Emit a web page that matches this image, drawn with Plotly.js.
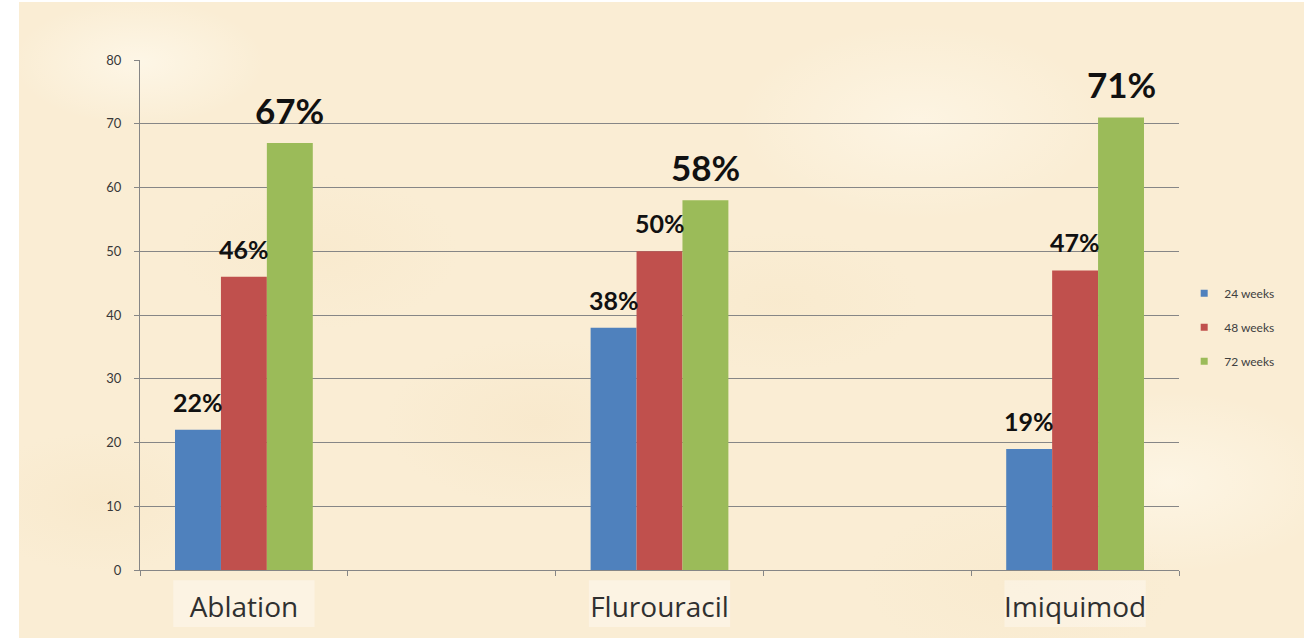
<!DOCTYPE html>
<html>
<head>
<meta charset="utf-8">
<script src="https://cdn.plot.ly/plotly-3.0.1.min.js"></script>
<style>
  html, body { margin:0; padding:0; width:1304px; height:639px; overflow:hidden; background:#ffffff; }
  #bg {
    position:absolute; left:19px; top:2px; width:1285px; height:636px;
    background-color:#faedd4;
    background-image:
      radial-gradient(ellipse 180px 90px at 120px 60px, rgba(255,250,238,0.7), rgba(255,250,238,0) 70%),
      radial-gradient(ellipse 220px 120px at 520px 420px, rgba(246,228,196,0.45), rgba(246,228,196,0) 70%),
      radial-gradient(ellipse 260px 140px at 900px 120px, rgba(255,249,236,0.6), rgba(255,249,236,0) 70%),
      radial-gradient(ellipse 200px 110px at 300px 250px, rgba(247,230,198,0.4), rgba(247,230,198,0) 70%),
      radial-gradient(ellipse 240px 130px at 1150px 480px, rgba(255,250,238,0.6), rgba(255,250,238,0) 70%),
      radial-gradient(ellipse 200px 100px at 760px 300px, rgba(246,229,196,0.35), rgba(246,229,196,0) 70%),
      radial-gradient(ellipse 180px 100px at 80px 500px, rgba(246,228,194,0.4), rgba(246,228,194,0) 70%),
      radial-gradient(ellipse 220px 120px at 1000px 580px, rgba(247,231,200,0.4), rgba(247,231,200,0) 70%);
  }
  #chart { position:absolute; left:0; top:0; width:1304px; height:639px; }
</style>
</head>
<body>
<div id="bg"></div>
<div id="chart"></div>
<script>
// Data
const categories = ["Ablation", " ", "Flurouracil", "  ", "Imiquimod"];
const seriesNames = ["24 weeks", "48 weeks", "72 weeks"];
const weeks24 = [22, null, 38, null, 19];
const weeks48 = [46, null, 50, null, 47];
const weeks72 = [67, null, 58, null, 71];
const labelText24 = ["22%", "", "38%", "", "19%"];
const labelText48 = ["46%", "", "50%", "", "47%"];
const labelText72 = ["67%", "", "58%", "", "71%"];
const yTicks = [0, 10, 20, 30, 40, 50, 60, 70, 80];

const colors = ["#4F81BD", "#C0504D", "#9BBB59"];
const allValues = [weeks24, weeks48, weeks72];
const allLabels = [labelText24, labelText48, labelText72];
const labelSizes = [25, 25, 35];
const barShift = [-46, 0, 46];

const traces = [];
allValues.forEach((vals, i) => {
  traces.push({
    type: "bar", x: categories, y: vals, name: seriesNames[i],
    marker: { color: colors[i] }, showlegend: false, hoverinfo: "y"
  });
});
// legend entries (small square swatches)
seriesNames.forEach((nm, i) => {
  traces.push({
    type: "scatter", mode: "markers", x: [null], y: [null], name: nm,
    marker: { symbol: "square", size: 7, color: colors[i] },
    legendgroup: "g" + i, showlegend: true
  });
});

const annotations = [];
allValues.forEach((vals, i) => {
  vals.forEach((v, j) => {
    if (v === null) return;
    annotations.push({
      x: categories[j], y: v, xref: "x", yref: "y",
      text: allLabels[i][j], showarrow: false,
      xanchor: "center", yanchor: "bottom",
      xshift: barShift[i], yshift: i === 2 ? 10 : 11,
      font: { family: "Lato, 'Open Sans', sans-serif", size: labelSizes[i], color: "#111111", weight: "bold" }
    });
  });
});

// faint white boxes behind category labels
const shapes = [];
categories.forEach((c, j) => {
  if (c.trim() === "") return;
  shapes.push({
    type: "rect", xref: "x", yref: "paper", layer: "below",
    x0: j - 0.34, x1: j + 0.34, y0: -0.112, y1: -0.02,
    fillcolor: "rgba(255,255,255,0.35)", line: { width: 0 }
  });
});

const layout = {
  width: 1304, height: 639,
  paper_bgcolor: "rgba(0,0,0,0)", plot_bgcolor: "rgba(0,0,0,0)",
  margin: { l: 140, r: 125, t: 60, b: 69 },
  barmode: "group", bargap: 0.337, bargroupgap: 0,
  font: { family: "Lato, 'Open Sans', sans-serif", color: "#404040" },
  xaxis: {
    type: "category", categoryorder: "array", categoryarray: categories,
    showline: true, linecolor: "#868686", linewidth: 1,
    ticks: "outside", tickson: "boundaries", ticklen: 5, tickcolor: "#868686",
    tickfont: { family: "'Open Sans', sans-serif", size: 28, color: "#303030" },
    ticklabelstandoff: 12,
    showgrid: false, zeroline: false, fixedrange: true
  },
  yaxis: {
    range: [0, 80], tickvals: yTicks, ticktext: yTicks.map(String),
    showline: true, linecolor: "#868686", linewidth: 1,
    ticks: "outside", ticklen: 5, tickcolor: "#868686",
    showgrid: true, gridcolor: "#868686", gridwidth: 1,
    zeroline: false,
    tickfont: { family: "Lato, sans-serif", size: 13, color: "#383838" },
    ticklabelstandoff: 10, fixedrange: true
  },
  legend: {
    x: 1.005, xanchor: "left", y: 0.476, yanchor: "middle",
    bgcolor: "rgba(0,0,0,0)", borderwidth: 0,
    font: { family: "Lato, sans-serif", size: 12, color: "#404040" },
    tracegroupgap: 15, itemclick: false
  },
  annotations: annotations,
  shapes: shapes
};

Plotly.newPlot("chart", traces, layout, { displayModeBar: false, staticPlot: true });
</script>
</body>
</html>
